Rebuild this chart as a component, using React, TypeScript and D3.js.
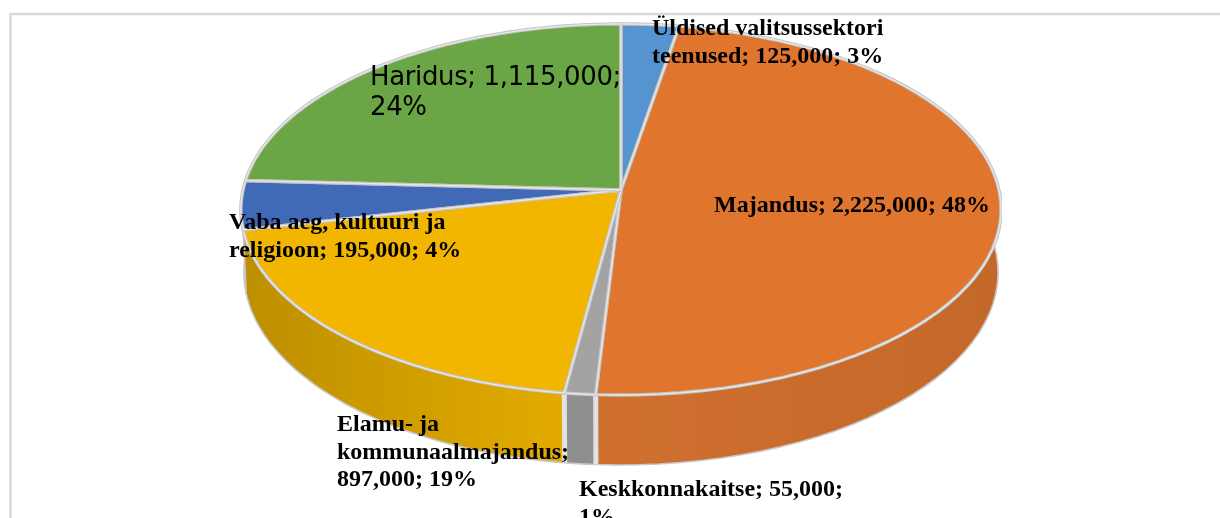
import React from "react";
import * as d3 from "d3";

const categories = ["Üldised valitsussektori teenused", "Majandus", "Keskkonnakaitse", "Elamu- ja kommunaalmajandus", "Vaba aeg, kultuuri ja religioon", "Haridus"];
const values = [125000, 2225000, 55000, 897000, 195000, 1115000];
const topColors = ["#5594cf", "#e0752e", "#a3a3a3", "#f2b600", "#4169b8", "#6ba644"];
const wallLeft = ["#4f86b8", "#d0702e", "#8f8f8f", "#bd8f00", "#3b62a8", "#609440"];
const wallRight = ["#4f86b8", "#c4682b", "#8f8f8f", "#e3ab00", "#3b62a8", "#609440"];
const labelLines = [
  ["Üldised valitsussektori", "teenused; 125,000; 3%"],
  ["Majandus; 2,225,000; 48%"],
  ["Keskkonnakaitse; 55,000;", "1%"],
  ["Elamu- ja", "kommunaalmajandus;", "897,000; 19%"],
  ["Vaba aeg, kultuuri ja", "religioon; 195,000; 4%"],
  ["Haridus; 1,115,000;", "24%"],
];
const labelPos = [[652, 35], [714, 212], [579, 496], [337, 431], [229, 229], [370, 85]];

const cx = 621, cyTop = 190, cyBot = 252;
const A = 378, Ab = 375, B = 183.5, k = 0.105, Bb = 190.6;
const project = (a: number, cy: number, b: number, w0: number = A): [number, number] => {
  const u = Math.sin(a), v = Math.cos(a), w = 1 + k * v;
  return [cx + (w0 * u) / w, cy - (b * v) / w];
};
const line = d3.line();
const sample = (s: number, e: number) => d3.range(0, 61).map((i) => s + ((e - s) * i) / 60);

export default function App() {
  const arcs = d3.pie<number>().sort(null)(values);
  const apex: [number, number] = [cx, cyTop];
  const topPaths = arcs.map((d) => line([apex, ...sample(d.startAngle, d.endAngle).map((a) => project(a, cyTop, B))]) + "Z");
  const wallPath = (d: { startAngle: number; endAngle: number }) => {
    const as = sample(d.startAngle, d.endAngle);
    return line([...as.map((a) => project(a, cyTop, B)), ...as.slice().reverse().map((a) => project(a, cyBot, Bb, Ab))]) + "Z";
  };
  const wallOrder = d3.range(arcs.length).sort(
    (p, q) => Math.cos((arcs[q].startAngle + arcs[q].endAngle) / 2) - Math.cos((arcs[p].startAngle + arcs[p].endAngle) / 2)
  );
  const seams = arcs
    .map((d) => d.endAngle)
    .filter((a) => Math.cos(a) < -0.5)
    .map((a) => line([project(a, cyTop, B), project(a, cyBot, Bb, Ab)]) as string);
  return (
    <svg width={1220} height={518} style={{ position: "absolute", left: 0, top: 0, display: "block" }}>
      <defs>
        {arcs.map((d, i) => {
          const xs = sample(d.startAngle, d.endAngle).map((a) => project(a, cyTop, B)[0]);
          return (
            <linearGradient key={i} id={`w${i}`} gradientUnits="userSpaceOnUse" x1={d3.min(xs)} x2={d3.max(xs)} y1={0} y2={0}>
              <stop offset="0" stopColor={wallLeft[i]} />
              <stop offset="1" stopColor={wallRight[i]} />
            </linearGradient>
          );
        })}
        <filter id="soft" x="0" y="0" width="100%" height="100%">
          <feGaussianBlur stdDeviation={0.35} />
        </filter>
      </defs>
      <rect width={1220} height={518} fill="#fff" />
      <path d="M10.5 518V14H1220" fill="none" stroke="#d9d9d9" strokeWidth={2.5} />
      <g filter="url(#soft)">
        {wallOrder.map((i) => (
          <path key={i} d={wallPath(arcs[i])} fill={`url(#w${i})`} stroke="#c8c8c8" strokeWidth={1.6} strokeLinejoin="round" />
        ))}
        {seams.map((p, i) => (
          <path key={i} d={p} fill="none" stroke="#e2e2e2" strokeWidth={5} />
        ))}
        {topPaths.map((p, i) => (
          <path key={i} d={p} fill={topColors[i]} />
        ))}
        {topPaths.map((p, i) => (
          <g key={i} fill="none" strokeLinejoin="round">
            <path d={p} stroke="#c4c4c4" strokeWidth={3.4} />
            <path d={p} stroke="#e8e8e8" strokeWidth={1.3} />
          </g>
        ))}
        {labelLines.map((ls, i) => (
          <text
            key={categories[i]}
            x={labelPos[i][0]}
            y={labelPos[i][1]}
            fontFamily={i === 5 ? "DejaVu Sans" : "Liberation Serif"}
            fontWeight={i === 5 ? 400 : 700}
            fontSize={i === 5 ? 26 : 24}
            letterSpacing={i === 5 ? -0.37 : 0}
            fill="#000"
          >
            {ls.map((t, j) => (
              <tspan key={j} x={labelPos[i][0]} y={labelPos[i][1] + j * (i === 5 ? 30 : 27.5)}>{t}</tspan>
            ))}
          </text>
        ))}
      </g>
    </svg>
  );
}
